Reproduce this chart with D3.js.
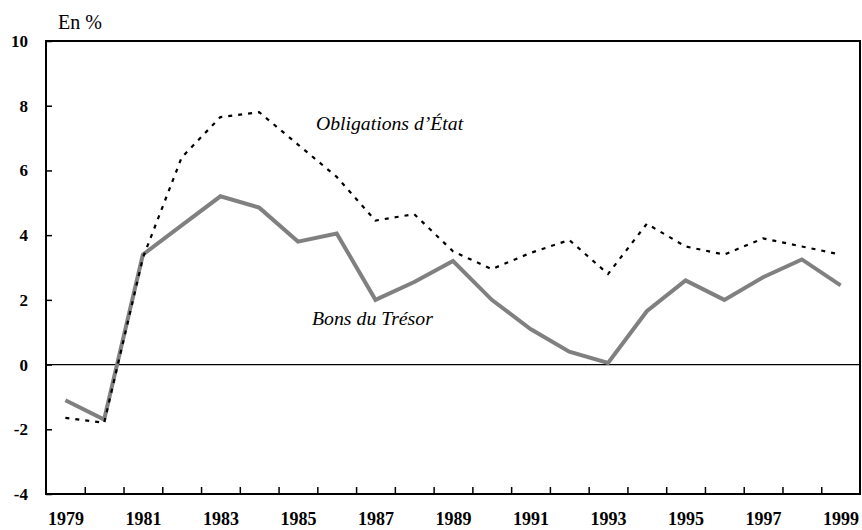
<!DOCTYPE html>
<html>
<head>
<meta charset="utf-8">
<script src="https://cdn.jsdelivr.net/npm/d3@7"></script>
<style>
  body { margin: 0; background: #fff; }
  svg { display: block; font-family: "Liberation Serif", "Times New Roman", serif; }
</style>
</head>
<body>
<script>
var years = d3.range(1979, 2000);
var bons = [-1.1, -1.7, 3.4, 4.3, 5.2, 4.85, 3.8, 4.05, 2.0, 2.55, 3.2, 2.0, 1.1, 0.4, 0.05, 1.65, 2.6, 2.0, 2.7, 3.25, 2.45];
var obligations = [-1.65, -1.8, 3.3, 6.4, 7.65, 7.8, 6.8, 5.8, 4.45, 4.65, 3.5, 2.95, 3.45, 3.85, 2.8, 4.35, 3.65, 3.4, 3.9, 3.65, 3.4];
var yTicks = [-4, -2, 0, 2, 4, 6, 8, 10];
var xLabels = [1979, 1981, 1983, 1985, 1987, 1989, 1991, 1993, 1995, 1997, 1999];

var width = 862, height = 530;
var plotLeft = 46, plotRight = 860, plotTop = 41, plotBottom = 494;

var svg = d3.select("body").append("svg")
  .attr("width", width)
  .attr("height", height);

var x = d3.scaleLinear().domain([1978.5, 1999.5]).range([plotLeft, plotRight]);
var y = d3.scaleLinear().domain([-4, 10]).range([plotBottom, plotTop]);

// frame
svg.append("rect")
  .attr("x", plotLeft).attr("y", plotTop)
  .attr("width", plotRight - plotLeft).attr("height", plotBottom - plotTop)
  .attr("fill", "none").attr("stroke", "#000").attr("stroke-width", 2);

// zero line
svg.append("line")
  .attr("x1", plotLeft).attr("x2", plotRight)
  .attr("y1", y(0)).attr("y2", y(0))
  .attr("stroke", "#000").attr("stroke-width", 1.3);

// y axis (plain hyphen for negatives, as in the source)
var yAxis = svg.append("g")
  .attr("transform", "translate(" + plotLeft + ",0)")
  .call(d3.axisLeft(y).tickValues(yTicks).tickSize(-6).tickPadding(18).tickFormat(function(d){ return String(d); }));
yAxis.attr("font-family", null);
yAxis.select(".domain").remove();
yAxis.selectAll(".tick line").attr("stroke", "#000").attr("stroke-width", 1.5);
yAxis.selectAll("text")
  .attr("font-size", 17).attr("font-weight", "bold").attr("fill", "#000");

// x ticks at year boundaries
var xAxis = svg.append("g")
  .attr("transform", "translate(0," + plotBottom + ")")
  .call(d3.axisBottom(x).tickValues(d3.range(1979.5, 1999, 1)).tickSize(-7).tickFormat(""));
xAxis.select(".domain").remove();
xAxis.selectAll(".tick line").attr("stroke", "#000").attr("stroke-width", 1.5);

var xLab = svg.append("g")
  .attr("transform", "translate(0," + plotBottom + ")")
  .call(d3.axisBottom(x).tickValues(xLabels).tickSize(0).tickPadding(18).tickFormat(d3.format("d")));
xLab.attr("font-family", null);
xLab.select(".domain").remove();
xLab.selectAll("text")
  .attr("font-size", 18).attr("font-weight", "bold").attr("fill", "#000");

var line = d3.line()
  .x(function(d, i){ return x(years[i]); })
  .y(function(d){ return y(d); });

svg.append("path")
  .datum(bons)
  .attr("d", line)
  .attr("fill", "none")
  .attr("stroke", "#808080")
  .attr("stroke-width", 4);

svg.append("path")
  .datum(obligations)
  .attr("d", line)
  .attr("fill", "none")
  .attr("stroke", "#000")
  .attr("stroke-width", 2.2)
  .attr("stroke-dasharray", "4,6");

svg.append("text")
  .attr("x", 58).attr("y", 29)
  .attr("font-size", 20)
  .text("En %");

svg.append("text")
  .attr("x", 316).attr("y", 130)
  .attr("font-size", 19.7).attr("font-style", "italic")
  .text("Obligations d\u2019État");

svg.append("text")
  .attr("x", 312).attr("y", 325)
  .attr("font-size", 19.8).attr("font-style", "italic")
  .text("Bons du Trésor");
</script>
</body>
</html>
